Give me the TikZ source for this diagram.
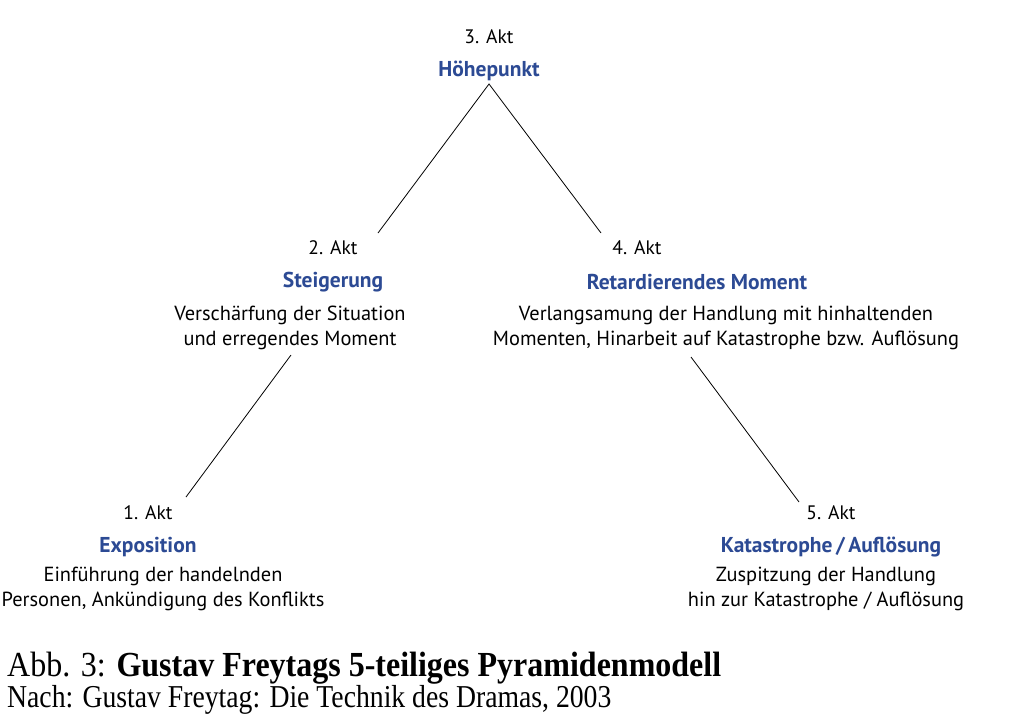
\documentclass[tikz,border=0pt]{standalone}
\usepackage{fontspec}
\setmainfont{PT Sans}
\newfontfamily\capfont{Liberation Serif}
\definecolor{actblue}{RGB}{44,74,148}
\begin{document}
\begin{tikzpicture}[x=1pt,y=-1pt,
  akt/.style={font=\fontsize{19.5}{25}\selectfont, inner sep=0pt},
  ttl/.style={font=\fontsize{21.5}{25}\selectfont\bfseries, text=actblue, inner sep=0pt},
  desc/.style={font=\fontsize{20.4}{24.5}\selectfont, align=center, inner sep=0pt},
  conn/.style={draw=black, line width=0.8pt}]
\useasboundingbox[fill=white] (0,0) rectangle (1024,724);
% act 3
\node[akt] (a3) at (489,37) {3. Akt};
\node[ttl] (t3) at (489,71) {Höhepunkt};
% act 2
\node[akt] (a2) at (333,248) {2. Akt};
\node[ttl] (t2) at (333,282) {Steigerung};
\node[desc] (d2) at (290,328) {Verschärfung der Situation\\und erregendes Moment};
% act 4
\node[akt] (a4) at (637,248) {4. Akt};
\node[ttl] (t4) at (697,282) {Retardierendes Moment};
\node[desc] (d4) at (726,328) {Verlangsamung der Handlung mit hinhaltenden\\Momenten, Hinarbeit auf Katastrophe bzw. Auflösung};
% act 1
\node[akt] (a1) at (148,513) {1. Akt};
\node[ttl] (t1) at (148,547) {Exposition};
\node[desc] (d1) at (163,589) {Einführung der handelnden\\Personen, Ankündigung des Konflikts};
% act 5
\node[akt] (a5) at (831,513) {5. Akt};
\node[ttl] (t5) at (831,547) {Katastrophe\,/\,Auflösung};
\node[desc] (d5) at (826,589) {Zuspitzung der Handlung\\hin zur Katastrophe / Auflösung};
% connector end points
\coordinate (apex) at (489,84);
\coordinate (l2) at (378,233);
\coordinate (r4) at (601,233);
\coordinate (l2b) at (291,355);
\coordinate (l1) at (186,497);
\coordinate (r4b) at (691,357);
\coordinate (r5) at (799,502);
\draw[conn] (l2) -- (apex) -- (r4);
\draw[conn] (l2b) -- (l1);
\draw[conn] (r4b) -- (r5);
% caption
\node[anchor=base west, inner sep=0pt, font=\capfont\fontsize{32}{33}\selectfont] (cap1) at (7,676) {\scalebox{1}[1.1]{Abb. 3: \textbf{Gustav Freytags 5-teiliges Pyramidenmodell}}};
\node[anchor=base west, inner sep=0pt, font=\capfont\fontsize{27.7}{29}\selectfont] (cap2) at (7,707) {\scalebox{1}[1.15]{Nach: Gustav Freytag: Die Technik des Dramas, 2003}};
\end{tikzpicture}
\end{document}
